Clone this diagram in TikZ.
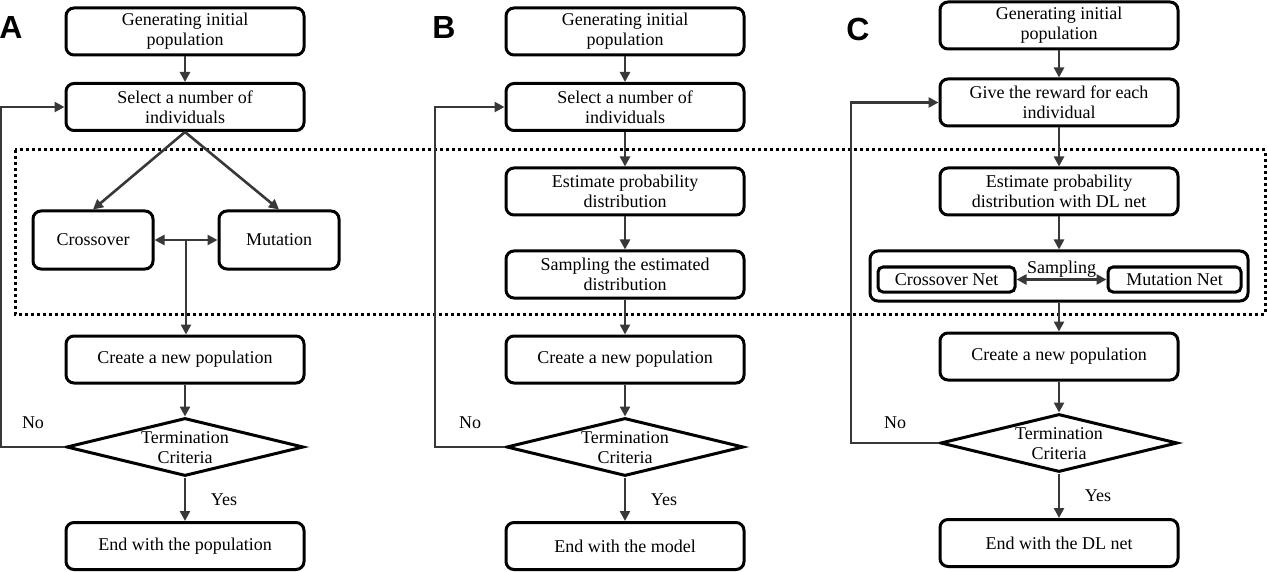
\documentclass[tikz,border=0pt]{standalone}
\usepackage{fontspec}
\setmainfont{Liberation Serif}
\setsansfont{Liberation Sans}
\usetikzlibrary{shapes.geometric,arrows.meta,calc}
\definecolor{lineclr}{HTML}{383838}
\newcommand{\stacked}[1]{\smash{\raisebox{-3.5pt}{\begin{tabular}[c]{@{}c@{}}#1\end{tabular}}}}
\tikzset{
  box/.style={draw, rounded corners=4pt, line width=1.5pt, minimum width=119pt, minimum height=23.5pt, align=center, inner sep=1pt},
  smallbox/.style={box, minimum width=60pt, minimum height=29pt},
  netbox/.style={draw, rounded corners=2.5pt, line width=1.5pt, minimum height=12.5pt, inner sep=1pt},
  decision/.style={draw, diamond, line width=1.5pt, aspect=4, minimum width=118.5pt, minimum height=29pt, inner sep=0pt},
  arr/.style={draw=lineclr, line width=1.3pt, -{Triangle[length=5pt,width=5pt]}},
  dbl/.style={arr, {Triangle[length=5pt,width=5pt]}-{Triangle[length=5pt,width=5pt]}},
  panel/.style={font=\fontsize{16}{16}\selectfont\sffamily\bfseries, inner sep=0pt}
}
\begin{document}
\begin{tikzpicture}[x=0.5pt, y=-0.5pt, every node/.style={font=\fontsize{9}{10}\selectfont}]
\useasboundingbox (0,0) rectangle (1268,572);
\draw[line width=1.5pt, dash pattern=on 1.5pt off 1.5pt] (15,150) rectangle (1265,314);

\node (la) [panel] at (11,27) {A};
\node (lb) [panel] at (444,27) {B};
\node (lc) [panel] at (858,29) {C};

\node (a1) [box] at (185,31.5) {Generating initial\\population};
\node (a2) [box] at (185,107) {Select a number of\\individuals};
\node (a3) [smallbox] at (93,240) {Crossover};
\node (a4) [smallbox] at (279,240) {Mutation};
\node (a5) [box] at (185,359.5) {Create a new population};
\node (a6) [decision] at (185,447) {\stacked{Termination\\Criteria}};
\node (a7) [box] at (185,546) {End with the population};
\coordinate (a34) at ($(a3.east)!0.5!(a4.west)$);

\draw[arr] (a1) -- (a2);
\draw[arr] (a2.south) -- (a3.north);
\draw[arr] (a2.south) -- (a4.north);
\draw[dbl] (a3) -- (a4);
\draw[arr] (a34) -- (a34 |- a5.north);
\draw[arr] (a5) -- (a6);
\draw[arr] (a6) -- node[midway, right=9pt] {Yes} (a7);
\draw[arr] (a6.west) -- node[midway, above=5pt] {No} ++(-64,0) |- (a2.west);

\node (b1) [box] at (625,31.5) {Generating initial\\population};
\node (b2) [box] at (625,107) {Select a number of\\individuals};
\node (b3) [box] at (625,191.5) {Estimate probability\\distribution};
\node (b4) [box] at (625,274.5) {Sampling the estimated\\distribution};
\node (b5) [box] at (625,359.5) {Create a new population};
\node (b6) [decision] at (625,447) {\stacked{Termination\\Criteria}};
\node (b7) [box] at (625,546) {End with the model};

\draw[arr] (b1) -- (b2);
\draw[arr] (b2) -- (b3);
\draw[arr] (b3) -- (b4);
\draw[arr] (b4) -- (b5);
\draw[arr] (b5) -- (b6);
\draw[arr] (b6) -- node[midway, right=9pt] {Yes} (b7);
\draw[arr] (b6.west) -- node[midway, above=5pt] {No} ++(-70,0) |- (b2.west);

\node (c1) [box] at (1059,25.5) {Generating initial\\population};
\node (c2) [box] at (1059,102.5) {Give the reward for each\\individual};
\node (c3) [box] at (1059,191.5) {Estimate probability\\distribution with DL net};
\node (c4) [box, minimum width=189pt, minimum height=25pt] at (1059,276) {};
\node (c5) [netbox, minimum width=68.5pt] at (946.5,279.5) {Crossover Net};
\node (c6) [netbox, minimum width=66.5pt] at (1174.5,279.5) {Mutation Net};
\node (c7) [box] at (1059,356.5) {Create a new population};
\node (c8) [decision] at (1059,443) {\stacked{Termination\\Criteria}};
\node (c9) [box] at (1059,543) {End with the DL net};

\draw[arr] (c1) -- (c2);
\draw[arr] (c2) -- (c3);
\draw[arr] (c3) -- (c4);
\draw[dbl] (c5) -- node[midway, above, inner sep=0.5pt] {Sampling} (c6);
\draw[arr] (c4) -- (c7);
\draw[arr] (c7) -- (c8);
\draw[arr] (c8) -- node[midway, right=9pt] {Yes} (c9);
\draw[arr] (c8.west) -- node[midway, above=3pt] {No} ++(-88,0) |- (c2.west);
\end{tikzpicture}
\end{document}
